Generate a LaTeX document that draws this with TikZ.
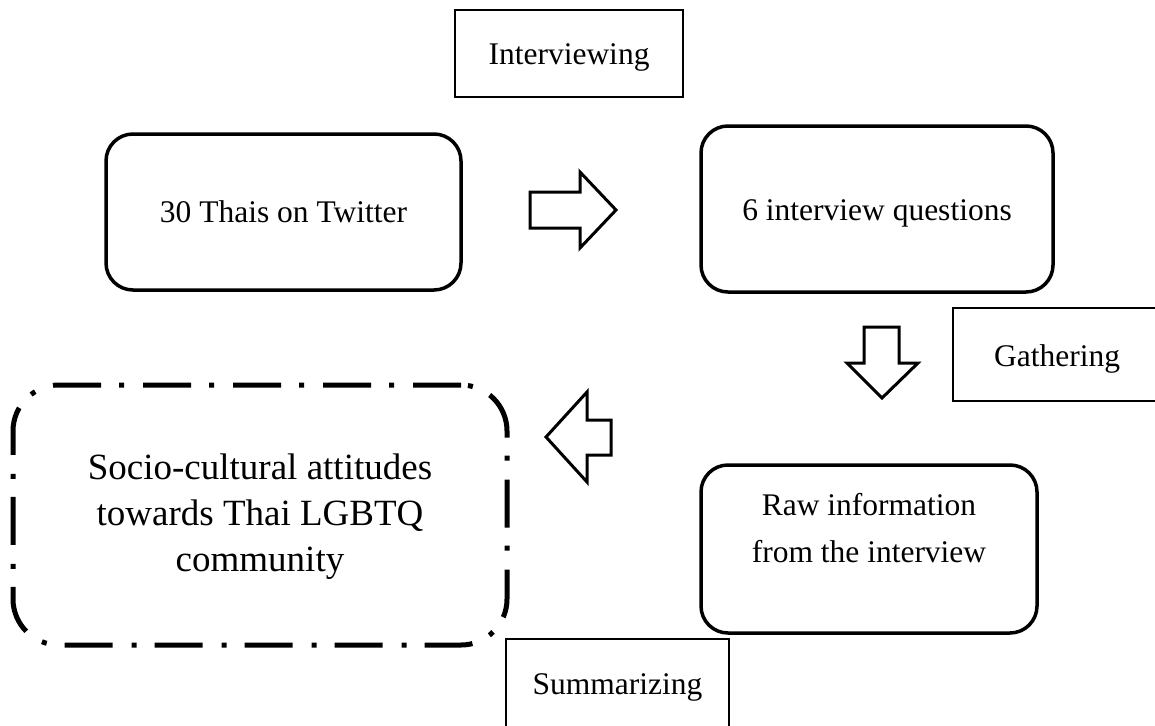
\documentclass[tikz,border=0pt]{standalone}
\usepackage{fontspec}
\setmainfont{Liberation Serif}
\begin{document}
\begin{tikzpicture}[x=1pt,y=-1pt,
  rbox/.style={draw, line width=3.5pt, rounded corners=27pt, inner sep=0pt},
  sbox/.style={draw, line width=2pt, inner sep=0pt},
  dbox/.style={draw, line width=5pt, rounded corners=46pt, inner sep=0pt,
    dash pattern=on 48pt off 19pt on 5pt off 18pt},
  txt/.style={font=\fontsize{31.5}{47}\selectfont, align=center, inner sep=0pt},
  bigtxt/.style={font=\fontsize{37}{46}\selectfont, align=center, inner sep=0pt},
  blockarrow/.style={draw, line width=3pt, fill=white, line join=miter}
]
\useasboundingbox (0,0) rectangle (1155,725);
\begin{scope}
\clip (0,0) rectangle (1155,725);
% labels in plain boxes
\node[sbox, minimum width=228pt, minimum height=87pt] (intervb) at (569,53.5) {};
\node[txt] (interv) at (569,57) {Interviewing};
\node[sbox, minimum width=207pt, minimum height=93pt] (gathb) at (1056.5,354.5) {};
\node[txt] (gath) at (1057,359) {Gathering};
\node[sbox, minimum width=223pt, minimum height=96pt] (summb) at (617.5,687) {};
\node[txt] (summ) at (617.5,687) {Summarizing};
% rounded boxes
\node[rbox, minimum width=355pt, minimum height=156pt] (thais) at (283.5,212) {};
\node[txt] (thaist) at (283.5,212) {30 Thais on Twitter};
\node[rbox, minimum width=352pt, minimum height=166pt] (quest) at (877,209) {};
\node[txt] (questt) at (877,213) {6 interview questions};
\node[rbox, minimum width=336pt, minimum height=168pt] (raw) at (869,549) {};
\node[txt] (rawt) at (869,528) {Raw information\\from the interview};
\node[dbox, minimum width=494pt, minimum height=260pt] (socio) at (260,515) {};
\node[bigtxt] (sociot) at (260,517) {Socio-cultural attitudes\\towards Thai LGBTQ\\community};
% block arrows
\draw[blockarrow] (530,192) -- (580,192) -- (580,172) -- (616,210) -- (580,248) -- (580,228) -- (530,228) -- cycle;
\draw[blockarrow] (864,327) -- (899,327) -- (899,363) -- (918,363) -- (882,398) -- (847,363) -- (864,363) -- cycle;
\draw[blockarrow] (611,420) -- (587,420) -- (587,392) -- (546,437) -- (587,482) -- (587,455) -- (611,455) -- cycle;
\end{scope}
\end{tikzpicture}
\end{document}
